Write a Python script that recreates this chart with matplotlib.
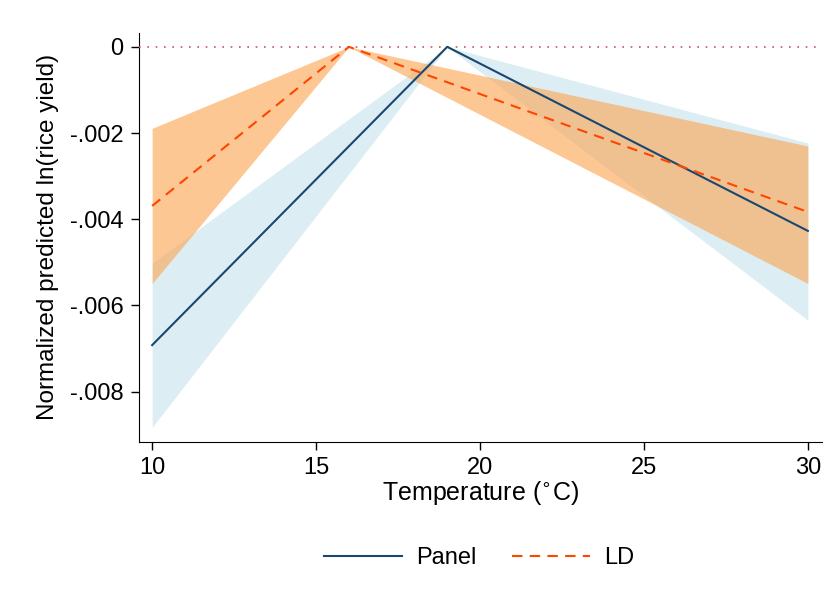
import matplotlib.pyplot as plt
import numpy as np

plt.rcParams['font.family'] = ['Liberation Sans', 'DejaVu Sans']

# Panel model: knots at 10, 19 (reference), 30
panel_x = [10, 19, 30]
panel_y = [-0.00692, 0.0, -0.00427]
panel_lo = [-0.00883, 0.0, -0.00634]
panel_hi = [-0.00502, 0.0, -0.00223]

# LD model: knots at 10, 16 (reference), 30
ld_x = [10, 16, 30]
ld_y = [-0.00369, 0.0, -0.00383]
ld_lo = [-0.00549, 0.0, -0.00549]
ld_hi = [-0.00189, 0.0, -0.00230]

yticks = [0, -0.002, -0.004, -0.006, -0.008]
ytick_labels = ['0', '-.002', '-.004', '-.006', '-.008']
xticks = [10, 15, 20, 25, 30]

fig = plt.figure(figsize=(8.39, 6.12), dpi=100)
ax = fig.add_axes([0.1657, 0.2783, 0.8140, 0.6677])

ax.fill_between(panel_x, panel_lo, panel_hi, color='#dceef4', lw=0, zorder=1)
ax.fill_between(ld_x, ld_lo, ld_hi, color='#fda34d', alpha=0.6, lw=0, zorder=2)
ax.axhline(0, color='#d05060', lw=1.2, ls=(0, (1, 4)), zorder=3)
ax.plot(panel_x, panel_y, color='#1a476f', lw=1.5, label='Panel', zorder=4)
ax.plot(ld_x, ld_y, color='#ff4500', lw=1.5, ls=(0, (5, 3.5)), label='LD', zorder=5)

ax.set_xlim(9.6, 30.43)
ax.set_ylim(-0.00916, 0.00032)
ax.set_xticks(xticks)
ax.set_yticks(yticks)
ax.set_yticklabels(ytick_labels)
ax.tick_params(labelsize=17, direction='out', length=6, width=1, pad=5)
ax.spines['top'].set_visible(False)
ax.spines['right'].set_visible(False)
ax.set_xlabel('Temperature ($^{\\circ}$C)', fontsize=18, labelpad=0)
ax.set_ylabel('Normalized predicted ln(rice yield)', fontsize=17.5, labelpad=8)

fig.legend(loc='center', bbox_to_anchor=(0.571, 0.088), ncol=2, frameon=False,
           fontsize=17, handlelength=3.3, columnspacing=1.5, handletextpad=0.6)

fig.savefig('out.png', dpi=100)
